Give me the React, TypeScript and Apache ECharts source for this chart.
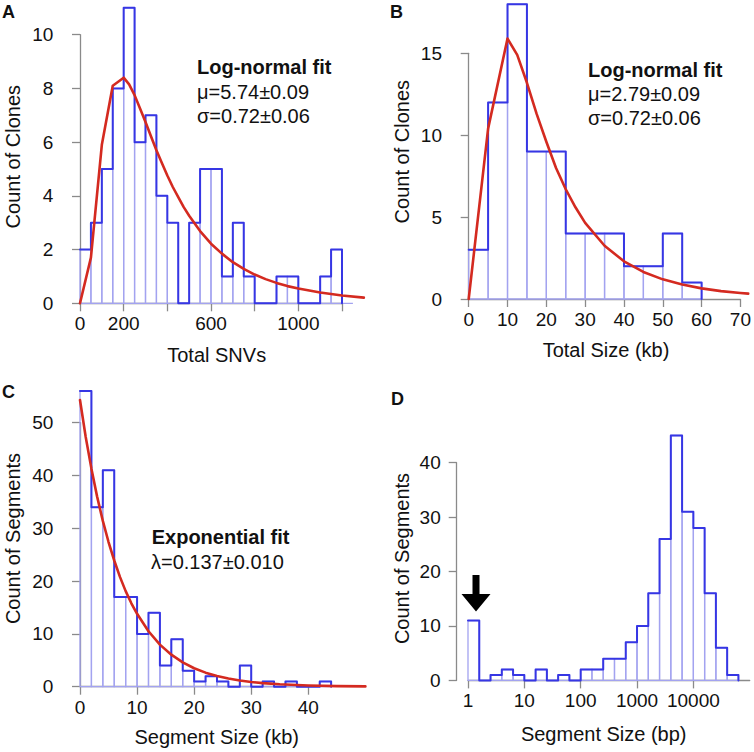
import React, { useEffect, useRef } from "react";
import * as echarts from "echarts";

// ---------- Panel A: Total SNVs ----------
const aBreaks = [0, 50, 100, 150, 200, 250, 300, 350, 400, 450, 500, 550, 600, 650, 700, 750, 800, 850, 900, 950, 1000, 1050, 1100, 1150, 1200, 1250];
const aCounts = [2, 3, 5, 8, 11, 6, 7, 4, 3, 0, 3, 5, 5, 1, 3, 1, 0, 0, 1, 1, 0, 0, 1, 2, 0];
const aFitX = [0, 50, 100, 150, 200, 225, 250, 275, 300, 325, 350, 375, 400, 425, 450, 475, 500, 550, 600, 650, 700, 750, 800, 850, 900, 950, 1000, 1100, 1200, 1300];
const aFitY = [0, 1.7, 5.9, 8.1, 8.4, 8.15, 7.75, 7.25, 6.75, 6.22, 5.7, 5.22, 4.76, 4.33, 3.95, 3.58, 3.26, 2.69, 2.22, 1.85, 1.53, 1.28, 1.07, 0.9, 0.76, 0.64, 0.55, 0.4, 0.29, 0.21];
const aXLabels = [0, 200, 600, 1000];
const aText = ["Log-normal fit", "μ=5.74±0.09", "σ=0.72±0.06"];

// ---------- Panel B: Total Size (kb) ----------
const bBreaks = [0, 5, 10, 15, 20, 25, 30, 35, 40, 45, 50, 55, 60];
const bCounts = [3, 12, 18, 9, 9, 4, 4, 4, 2, 2, 4, 1];
const bFitX = [0, 5, 10, 12.5, 15, 17.5, 20, 22.5, 25, 27.5, 30, 35, 40, 45, 50, 55, 60, 65, 70, 72];
const bFitY = [0, 10.4, 15.9, 14.9, 13.2, 11.3, 9.6, 8.0, 6.7, 5.6, 4.65, 3.25, 2.3, 1.65, 1.2, 0.88, 0.65, 0.48, 0.37, 0.33];
const bText = ["Log-normal fit", "μ=2.79±0.09", "σ=0.72±0.06"];

// ---------- Panel C: Segment Size (kb) ----------
const cBreaks = [0, 2, 4, 6, 8, 10, 12, 14, 16, 18, 20, 22, 24, 26, 28, 30, 32, 34, 36, 38, 40, 42, 44];
const cCounts = [56, 34, 41, 17, 17, 10, 14, 4, 9, 3, 1, 2, 1, 0, 4, 0, 1, 0, 1, 0, 0, 1];
const cFitX = [0, 1, 2, 3, 4, 5, 6, 7, 8, 9, 10, 12, 14, 16, 18, 20, 22, 24, 26, 28, 30, 32, 35, 40, 45, 50];
const cFitY = [54.3, 47.3, 41.3, 36.0, 31.4, 27.4, 23.9, 20.8, 18.1, 15.8, 13.8, 10.5, 7.97, 6.06, 4.61, 3.5, 2.66, 2.03, 1.54, 1.17, 0.89, 0.68, 0.45, 0.23, 0.11, 0.06];
const cText = ["Exponential fit", "λ=0.137±0.010"];

// ---------- Panel D: Segment Size (bp), log scale ----------
const dLogBreaks = [0, 0.2, 0.4, 0.6, 0.8, 1.0, 1.2, 1.4, 1.6, 1.8, 2.0, 2.2, 2.4, 2.6, 2.8, 3.0, 3.2, 3.4, 3.6, 3.8, 4.0, 4.2, 4.4, 4.6, 4.8];
const dCounts = [11, 0, 1, 2, 1, 0, 2, 0, 1, 0, 2, 2, 4, 4, 7, 10, 16, 26, 45, 31, 28, 16, 6, 1];
const dXTicks = [1, 10, 100, 1000, 10000];

const FONT = "'Liberation Sans', Arial, Helvetica, sans-serif";
const DARK = "#3636e4";
const LIGHT = "#a3a3f0";
const RED = "#d42a20";
const AXIS = "#8a8a8a";
const INK = "#111111";

// A polyline drawn through the axis scales (custom series, not clipped to the grid)
function polySeries(idx: number, pts: number[][], color: string, width: number, z: number) {
  return {
    type: "custom",
    xAxisIndex: idx,
    yAxisIndex: idx,
    clip: false,
    silent: true,
    encode: { x: 0, y: 1 },
    data: pts,
    renderItem: (params: any, api: any) => {
      if (params.dataIndex !== 0) return null;
      const points = pts.map((p) => api.coord(p));
      return {
        type: "polyline",
        shape: { points },
        style: { fill: "none", stroke: color, lineWidth: width, lineJoin: "round", lineCap: "round" },
      };
    },
    z,
  };
}

function histSeries(idx: number, breaks: number[], counts: number[]) {
  const data = counts.map((c, i) => [breaks[i], breaks[i + 1], c]);
  let last = counts.length - 1;
  while (last > 0 && counts[last] === 0) last--;
  const outline: number[][] = [];
  for (let i = 0; i <= last; i++) {
    outline.push([breaks[i], counts[i]]);
    outline.push([breaks[i + 1], counts[i]]);
  }
  outline.push([breaks[last + 1], 0]);
  return [
    {
      type: "custom",
      xAxisIndex: idx,
      yAxisIndex: idx,
      clip: false,
      silent: true,
      encode: { x: [0, 1], y: 2 },
      data,
      renderItem: (_p: any, api: any) => {
        const p0 = api.coord([api.value(0), 0]);
        const p1 = api.coord([api.value(1), api.value(2)]);
        return {
          type: "rect",
          shape: { x: p0[0], y: p1[1], width: p1[0] - p0[0], height: p0[1] - p1[1] },
          style: { fill: "none", stroke: LIGHT, lineWidth: 1.3 },
        };
      },
      z: 2,
    },
    polySeries(idx, outline, DARK, 2, 3),
  ];
}

function yAxis(idx: number, max: number, interval: number, offset: number) {
  return {
    type: "value",
    gridIndex: idx,
    min: 0,
    max,
    interval,
    offset,
    axisLine: { show: true, lineStyle: { color: AXIS, width: 1.3 } },
    axisTick: { show: true, length: 8, lineStyle: { color: AXIS, width: 1.3 } },
    axisLabel: { margin: 16, fontSize: 19, color: INK, fontFamily: FONT },
    splitLine: { show: false },
  };
}

function xAxisVal(idx: number, min: number, max: number, interval: number, labels?: number[]) {
  return {
    type: "value",
    gridIndex: idx,
    min,
    max,
    interval,
    axisLine: { show: true, onZero: false, lineStyle: { color: AXIS, width: 1.3 } },
    axisTick: { show: true, length: 8, lineStyle: { color: AXIS, width: 1.3 } },
    axisLabel: {
      margin: 11,
      fontSize: 19,
      color: INK,
      fontFamily: FONT,
      showMaxLabel: true,
      formatter: (v: number) => (labels ? (labels.includes(v) ? String(v) : "") : String(v)),
    },
    splitLine: { show: false },
  };
}

function txt(x: number, y: number, text: string, size: number, bold = false, align = "left", rotation = 0) {
  return {
    type: "text",
    x,
    y,
    rotation,
    silent: true,
    style: {
      text,
      fill: INK,
      font: `${bold ? "bold " : ""}${size}px ${FONT}`,
      textAlign: align,
      textVerticalAlign: "middle",
    },
    z: 10,
  };
}

export default function App() {
  const ref = useRef<HTMLDivElement>(null);
  useEffect(() => {
    if (!ref.current) return;
    const chart = echarts.init(ref.current, undefined, { renderer: "svg" });
    const option: any = {
      animation: false,
      grid: [
        { left: 80, top: 34.7, width: 262, height: 268.6 },
        { left: 468.7, top: 53.3, width: 274, height: 245.7 },
        { left: 80, top: 422.7, width: 228.3, height: 264 },
        { left: 468, top: 462.7, width: 281.7, height: 217.7 },
      ],
      xAxis: [
        xAxisVal(0, 0, 1200, 200, aXLabels),
        xAxisVal(1, 0, 70, 10),
        xAxisVal(2, 0, 40, 10),
        {
          type: "log",
          logBase: 10,
          gridIndex: 3,
          min: 1,
          max: 100000,
          axisLine: { show: true, onZero: false, lineStyle: { color: AXIS, width: 1.3 } },
          axisTick: { show: true, length: 8, customValues: dXTicks, lineStyle: { color: AXIS, width: 1.3 } },
          axisLabel: {
            margin: 11,
            fontSize: 19,
            color: INK,
            fontFamily: FONT,
            customValues: dXTicks,
            formatter: (v: number) => String(Math.round(v)),
          },
          minorTick: { show: false },
          splitLine: { show: false },
        },
      ],
      yAxis: [yAxis(0, 10, 2, 10.7), yAxis(1, 15, 5, 10.7), yAxis(2, 50, 10, 10.7), yAxis(3, 40, 10, 11.3)],
      series: [
        ...histSeries(0, aBreaks, aCounts),
        polySeries(0, aFitX.map((x, i) => [x, aFitY[i]]), RED, 2.6, 4),
        ...histSeries(1, bBreaks, bCounts),
        polySeries(1, bFitX.map((x, i) => [x, bFitY[i]]), RED, 2.6, 4),
        ...histSeries(2, cBreaks, cCounts),
        polySeries(2, cFitX.map((x, i) => [x, cFitY[i]]), RED, 2.6, 4),
        ...histSeries(3, dLogBreaks.map((e) => Math.pow(10, e)), dCounts),
      ],
      graphic: [
        txt(2, 12, "A", 18, true),
        txt(390, 12, "B", 18, true),
        txt(2, 392, "C", 18, true),
        txt(391, 398.5, "D", 18, true),
        txt(197, 67, aText[0], 20, true),
        txt(197, 92.4, aText[1], 20),
        txt(197, 116.4, aText[2], 20),
        txt(588, 70.4, bText[0], 20, true),
        txt(588, 94, bText[1], 20),
        txt(588, 118, bText[2], 20),
        txt(151.7, 537.4, cText[0], 20, true),
        txt(151, 561.8, cText[1], 20),
        txt(13, 156.7, "Count of Clones", 20, false, "center", Math.PI / 2),
        txt(216.7, 354.8, "Total SNVs", 20, false, "center"),
        txt(401.8, 151.7, "Count of Clones", 20, false, "center", Math.PI / 2),
        txt(606, 349.8, "Total Size (kb)", 20, false, "center"),
        txt(13, 538.5, "Count of Segments", 20, false, "center", Math.PI / 2),
        txt(216.7, 737.4, "Segment Size (kb)", 20, false, "center"),
        txt(401.5, 558.5, "Count of Segments", 20, false, "center", Math.PI / 2),
        txt(603.7, 734, "Segment Size (bp)", 20, false, "center"),
        {
          type: "polygon",
          silent: true,
          shape: {
            points: [
              [472.5, 575],
              [479.5, 575],
              [479.5, 594],
              [490.5, 594],
              [476, 611.5],
              [461.5, 594],
              [472.5, 594],
            ],
          },
          style: { fill: "#000" },
          z: 10,
        },
      ],
    };
    chart.setOption(option);
    return () => chart.dispose();
  }, []);
  return (
    <div
      ref={ref}
      style={{ position: "absolute", left: 0, top: 0, width: 754, height: 752, background: "#fff" }}
    />
  );
}
